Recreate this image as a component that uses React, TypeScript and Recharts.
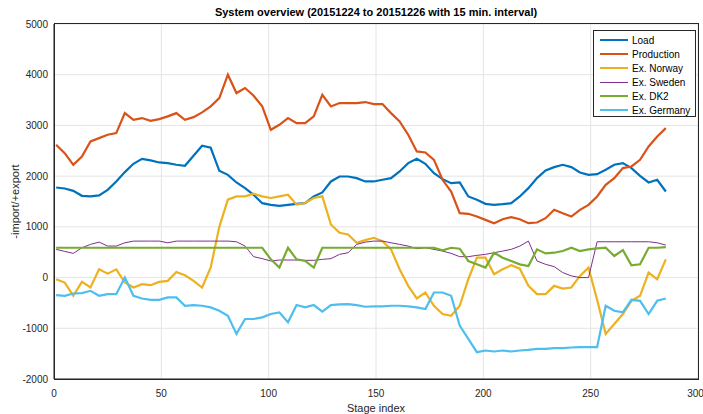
import { LineChart, Line, XAxis, YAxis, CartesianGrid } from 'recharts';

// stage index sampled every 4th stage
const stageIndex = [
  1, 5, 9, 13, 17, 21, 25, 29, 33, 37, 41, 45, 49,
  53, 57, 61, 65, 69, 73, 77, 81, 85, 89, 93, 97,
  101, 105, 109, 113, 117, 121, 125, 129, 133, 137, 141, 145, 149,
  153, 157, 161, 165, 169, 173, 177, 181, 185, 189, 193, 197,
  201, 205, 209, 213, 217, 221, 225, 229, 233, 237, 241, 245, 249,
  253, 257, 261, 265, 269, 273, 277, 281, 285,
];

const load = [
  1776, 1757, 1710, 1612, 1600, 1620, 1730, 1895, 2080, 2243, 2340, 2310, 2270,
  2257, 2224, 2204, 2401, 2600, 2559, 2105, 2026, 1875, 1763, 1632, 1467,
  1434, 1414, 1434, 1454, 1467, 1599, 1678, 1895, 1993, 1993, 1961, 1895, 1895,
  1928, 1961, 2092, 2257, 2342, 2243, 2059, 1941, 1862, 1875, 1599, 1533,
  1454, 1434, 1447, 1467, 1599, 1763, 1961, 2112, 2178, 2224, 2178, 2072, 2026,
  2039, 2125, 2224, 2257, 2158, 2007, 1875, 1928, 1697,
];

const production = [
  2618, 2454, 2224, 2388, 2684, 2750, 2816, 2849, 3243, 3112, 3145, 3092, 3125,
  3178, 3243, 3112, 3164, 3257, 3375, 3539, 4000, 3638, 3737, 3586, 3375,
  2914, 3013, 3145, 3046, 3046, 3178, 3605, 3375, 3441, 3441, 3441, 3461, 3421,
  3421, 3243, 3079, 2816, 2487, 2467, 2322, 1928, 1697, 1270, 1257, 1204,
  1138, 1072, 1151, 1191, 1151, 1072, 1086, 1171, 1336, 1270, 1204, 1336, 1434,
  1599, 1829, 1961, 2158, 2191, 2322, 2586, 2783, 2947,
];

const norway = [
  -33, -98, -359, -85, -196, 163, 78, 163, -98, -196, -131, -150, -85,
  -65, 111, 46, -65, -196, 200, 1000, 1536, 1601, 1601, 1654, 1601,
  1569, 1601, 1634, 1438, 1471, 1569, 1601, 1046, 882, 850, 686, 739, 784,
  719, 556, 163, -163, -412, -294, -556, -719, -752, -556, -33, 392,
  392, 65, 163, 242, 176, -163, -327, -327, -163, -216, -196, 33, 196,
  -438, -1111, -915, -719, -458, -359, 98, -33, 359,
];

const sweden = [
  556, 516, 477, 588, 654, 699, 621, 621, 686, 719, 719, 719, 719,
  686, 719, 719, 719, 719, 719, 719, 719, 706, 621, 412, 373,
  327, 346, 346, 346, 340, 340, 359, 373, 458, 490, 654, 699, 719,
  719, 686, 654, 621, 569, 588, 556, 523, 477, 412, 412, 438,
  458, 490, 523, 556, 621, 719, 327, 261, 216, 98, 33, 0, 0,
  706, 706, 706, 706, 706, 706, 706, 686, 640,
];

const dk2 = [
  588, 588, 588, 588, 588, 588, 588, 588, 588, 588, 588, 588, 588,
  588, 588, 588, 588, 588, 588, 588, 588, 588, 588, 588, 588,
  359, 196, 588, 359, 327, 196, 588, 588, 588, 588, 588, 588, 588,
  588, 588, 588, 588, 588, 588, 588, 536, 588, 569, 327, 261,
  196, 490, 392, 327, 261, 229, 556, 477, 490, 523, 588, 523, 556,
  575, 588, 425, 542, 242, 261, 588, 588, 601,
];

const germany = [
  -346, -359, -314, -307, -261, -359, -327, -327, 0, -359, -412, -438, -438,
  -392, -392, -556, -542, -556, -588, -654, -752, -1111, -817, -817, -784,
  -719, -686, -882, -542, -588, -542, -673, -542, -529, -523, -542, -575, -569,
  -569, -556, -556, -569, -588, -621, -294, -294, -359, -948, -1209, -1471,
  -1438, -1458, -1438, -1458, -1438, -1425, -1405, -1405, -1392, -1392, -1379, -1373, -1373,
  -1373, -556, -654, -686, -438, -458, -719, -458, -412,
];

const seriesKeys = ['load', 'production', 'norway', 'sweden', 'dk2', 'germany'];
const seriesNames = ['Load', 'Production', 'Ex. Norway', 'Ex. Sweden', 'Ex. DK2', 'Ex. Germany'];
const seriesColors = ['#0072BD', '#D95319', '#EDB120', '#7E2F8E', '#77AC30', '#4DBEEE'];
const seriesWidths = [2.2, 2.2, 2.2, 1, 2.2, 2.2];

const xTicks = [0, 50, 100, 150, 200, 250, 300];
const yTicks = [-2000, -1000, 0, 1000, 2000, 3000, 4000, 5000];

const data = stageIndex.map((x, i) => ({
  x,
  load: load[i],
  production: production[i],
  norway: norway[i],
  sweden: sweden[i],
  dk2: dk2[i],
  germany: germany[i],
}));

const font = 'Liberation Sans, Arial, Helvetica, sans-serif';
const axisColor = '#262626';
const tickStyle = { fill: axisColor, fontSize: 10, fontFamily: font };

export default function App() {
  return (
    <div style={{ position: 'absolute', left: 0, top: 0, width: 703, height: 414, background: '#fff', fontFamily: font }}>
      <LineChart width={703} height={414} data={data} margin={{ top: 24, right: 5, bottom: 0, left: 0 }}>
        <CartesianGrid stroke="#e4e4e4" />
        <XAxis
          dataKey="x"
          type="number"
          domain={[0, 300]}
          ticks={xTicks}
          height={35}
          tickLine={false}
          tickMargin={5}
          stroke={axisColor}
          tick={tickStyle}
          label={{ value: 'Stage index', position: 'insideBottom', offset: 2, style: { fill: axisColor, fontSize: 11, fontFamily: font } }}
        />
        <YAxis
          type="number"
          domain={[-2000, 5000]}
          ticks={yTicks}
          width={54}
          tickLine={false}
          tickMargin={0}
          stroke={axisColor}
          tick={tickStyle}
          label={{ value: '-import/+export', angle: -90, position: 'insideLeft', offset: 15, style: { textAnchor: 'middle', fill: axisColor, fontSize: 11, fontFamily: font } }}
        />
        {seriesKeys.map((k, i) => (
          <Line
            key={k}
            dataKey={k}
            name={seriesNames[i]}
            type="linear"
            stroke={seriesColors[i]}
            strokeWidth={seriesWidths[i]}
            dot={false}
            activeDot={false}
            isAnimationActive={false}
          />
        ))}
        <text x={376} y={16} textAnchor="middle" fontWeight="bold" fontSize={11} fontFamily={font} fill="#000">
          System overview (20151224 to 20151226 with 15 min. interval)
        </text>
      </LineChart>
      {/* box around the plot area */}
      <div
        style={{
          position: 'absolute',
          left: 54,
          top: 23,
          width: 645,
          height: 357,
          border: '1px solid ' + axisColor,
          boxSizing: 'border-box',
          pointerEvents: 'none',
        }}
      />
      <div
        style={{
          position: 'absolute',
          left: 593,
          top: 30,
          width: 103,
          height: 87,
          border: '1px solid ' + axisColor,
          background: '#fff',
          boxSizing: 'border-box',
          paddingTop: 2,
        }}
      >
        {seriesNames.map((n, i) => (
          <div key={n} style={{ display: 'flex', alignItems: 'center', height: 14, fontSize: 10, color: '#000' }}>
            <div style={{ marginLeft: 6, width: 28, height: 0, borderTop: `${seriesWidths[i] > 1.5 ? 2 : 1}px solid ${seriesColors[i]}` }} />
            <span style={{ marginLeft: 4, whiteSpace: 'nowrap' }}>{n}</span>
          </div>
        ))}
      </div>
    </div>
  );
}
